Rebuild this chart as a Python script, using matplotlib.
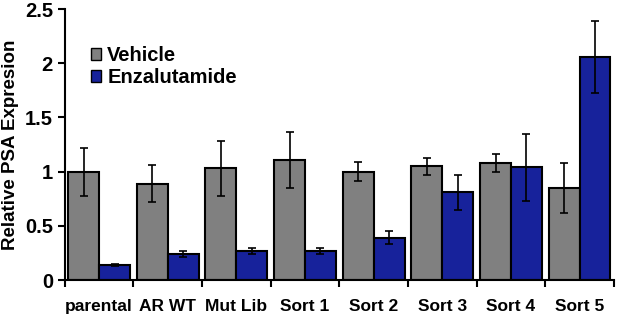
import numpy as np
import matplotlib.pyplot as plt
from matplotlib.patches import Patch

plt.rcParams['font.family'] = ['Liberation Sans', 'DejaVu Sans']
plt.rcParams['font.weight'] = 'bold'

groups = ['parental', 'AR WT', 'Mut Lib', 'Sort 1', 'Sort 2', 'Sort 3', 'Sort 4', 'Sort 5']
vehicle = [1.00, 0.89, 1.03, 1.11, 1.00, 1.05, 1.08, 0.85]
vehicle_err = [0.22, 0.17, 0.25, 0.26, 0.09, 0.08, 0.08, 0.23]
enza = [0.14, 0.24, 0.27, 0.27, 0.39, 0.81, 1.04, 2.06]
enza_err = [0.01, 0.025, 0.03, 0.03, 0.06, 0.16, 0.31, 0.33]

x = np.arange(len(groups))
w = 0.45

fig = plt.figure(figsize=(6.17, 3.15), dpi=100)
ax = fig.add_axes([0.105, 0.111, 0.89, 0.86])

ekw = dict(elinewidth=1.2, capsize=3, capthick=1.2, ecolor='black')
ax.bar(x - w/2, vehicle, w, yerr=vehicle_err, color='#808080', edgecolor='black',
       linewidth=1.5, error_kw=ekw)
ax.bar(x + w/2, enza, w, yerr=enza_err, color='#17229b', edgecolor='black',
       linewidth=1.5, error_kw=ekw)

ax.set_xlim(-0.5, len(groups) - 0.5)
ax.set_ylim(0, 2.5)
ax.set_yticks([0, 0.5, 1, 1.5, 2, 2.5])
ax.set_yticklabels(['0', '0.5', '1', '1.5', '2', '2.5'], fontsize=14.5)
ax.set_xticks(x)
ax.set_xticklabels(groups, fontsize=12.5)
ax.tick_params(axis='x', length=0, pad=14)
ax.set_xticks(np.arange(len(groups) + 1) - 0.5, minor=True)
ax.tick_params(axis='x', which='minor', length=5, width=1.5)
ax.tick_params(axis='y', length=5, width=1.5)
ax.set_ylabel('Relative PSA Expresion', fontsize=13.5, fontweight='bold')

for s in ['top', 'right']:
    ax.spines[s].set_visible(False)
for s in ['left', 'bottom']:
    ax.spines[s].set_linewidth(1.5)

handles = [Patch(facecolor='#808080', edgecolor='black'),
           Patch(facecolor='#17229b', edgecolor='black')]
ax.legend(handles, ['Vehicle', 'Enzalutamide'], loc='upper left',
          bbox_to_anchor=(0.015, 0.93), frameon=False, fontsize=14.5,
          handlelength=0.5, handleheight=0.5, handletextpad=0.3, labelspacing=0.15)

fig.savefig('out.png', dpi=100)
